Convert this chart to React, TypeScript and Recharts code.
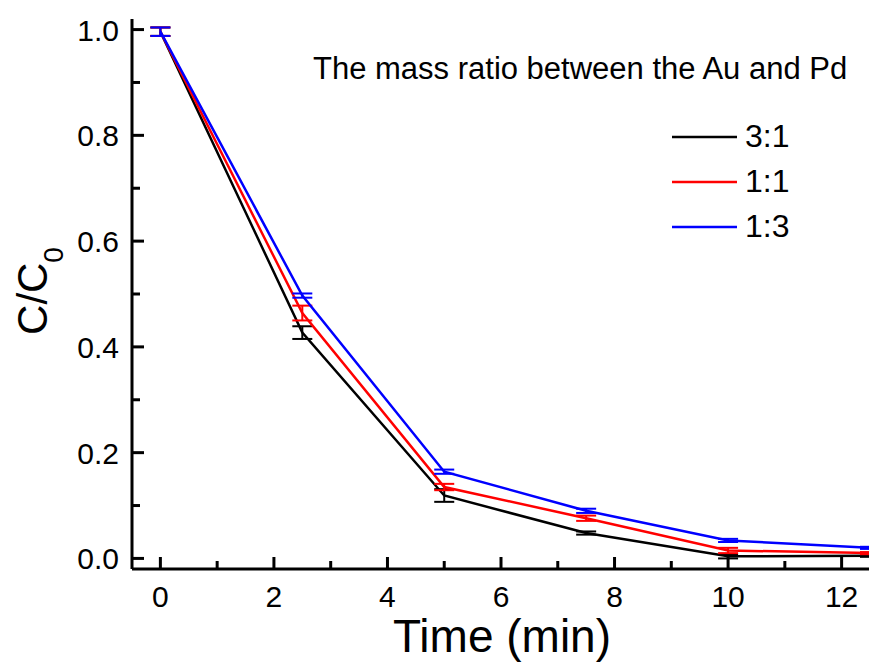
import { LineChart, Line, XAxis, YAxis, ErrorBar } from 'recharts';

const times = [0, 2.5, 5, 7.5, 10, 12.5];
const ratio31 = [0.996, 0.427, 0.119, 0.048, 0.004, 0.005];
const ratio11 = [0.996, 0.464, 0.135, 0.076, 0.015, 0.01];
const ratio13 = [0.996, 0.497, 0.164, 0.09, 0.034, 0.02];
const err31 = [0.008, 0.012, 0.012, 0.003, 0.004, 0.002];
const err11 = [0.008, 0.014, 0.006, 0.005, 0.005, 0.002];
const err13 = [0.008, 0.004, 0.004, 0.004, 0.003, 0.002];

const xTicks = [0, 1, 2, 3, 4, 5, 6, 7, 8, 9, 10, 11, 12];
const yTicks = [0, 0.1, 0.2, 0.3, 0.4, 0.5, 0.6, 0.7, 0.8, 0.9, 1.0];

const series = [
  { key: 'r31', err: 'e31', name: '3:1', color: '#000000' },
  { key: 'r11', err: 'e11', name: '1:1', color: '#ff0000' },
  { key: 'r13', err: 'e13', name: '1:3', color: '#0000ff' },
];

const data = times.map((t, i) => ({
  t,
  r31: ratio31[i],
  r11: ratio11[i],
  r13: ratio13[i],
  e31: err31[i],
  e11: err11[i],
  e13: err13[i],
}));

const font = '"Liberation Sans", Arial, sans-serif';

const XTick = (props: any) => {
  const { x, y, payload } = props;
  const v = payload.value;
  const major = v % 2 === 0;
  return (
    <g>
      <line x1={x} x2={x} y1={y} y2={y - (major ? 12 : 8)} stroke="#000" strokeWidth={3} />
      {major && (
        <text x={x} y={y + 38} textAnchor="middle" fontSize={30} fontFamily={font} fill="#000">
          {v}
        </text>
      )}
    </g>
  );
};

const YTick = (props: any) => {
  const { x, y, payload } = props;
  const v = payload.value;
  const major = Math.round(v * 10) % 2 === 0;
  return (
    <g>
      <line x1={x} x2={x + (major ? 12 : 8)} y1={y} y2={y} stroke="#000" strokeWidth={3} />
      {major && (
        <text x={x - 13} y={y + 11} textAnchor="end" fontSize={30} fontFamily={font} fill="#000">
          {v.toFixed(1)}
        </text>
      )}
    </g>
  );
};

export default function App() {
  return (
    <div
      style={{
        position: 'absolute',
        left: 0,
        top: 0,
        width: 869,
        height: 664,
        overflow: 'hidden',
        background: '#fff',
      }}
    >
      <LineChart width={900} height={664} data={data} margin={{ top: 19, right: 30, left: 0, bottom: 0 }}>
        <XAxis
          dataKey="t"
          type="number"
          domain={[-0.5, 12.5]}
          ticks={xTicks}
          interval={0}
          tickSize={0}
          tickMargin={0}
          tick={<XTick />}
          height={95}
          axisLine={{ stroke: '#000', strokeWidth: 3 }}
        />
        <XAxis
          xAxisId="top"
          orientation="top"
          dataKey="t"
          type="number"
          domain={[-0.5, 12.5]}
          height={0}
          tick={false}
          tickLine={false}
          axisLine={{ stroke: '#000', strokeWidth: 3 }}
        />
        <YAxis
          type="number"
          domain={[-0.02, 1.02]}
          ticks={yTicks}
          interval={0}
          tickSize={0}
          tickMargin={0}
          tick={<YTick />}
          width={132}
          axisLine={{ stroke: '#000', strokeWidth: 3 }}
        />
        <YAxis
          yAxisId="right"
          orientation="right"
          type="number"
          domain={[-0.02, 1.02]}
          width={0}
          tick={false}
          tickLine={false}
          axisLine={{ stroke: '#000', strokeWidth: 3 }}
        />
        {series.map((s) => (
          <Line
            key={s.key}
            type="linear"
            dataKey={s.key}
            stroke={s.color}
            strokeWidth={2.5}
            dot={false}
            isAnimationActive={false}
          >
            <ErrorBar dataKey={s.err} width={10} stroke={s.color} strokeWidth={2} direction="y" />
          </Line>
        ))}
      </LineChart>
      <svg
        width={869}
        height={664}
        style={{ position: 'absolute', left: 0, top: 0, pointerEvents: 'none' }}
        fontFamily={font}
      >
        <text x={313} y={79} fontSize={31} fill="#000">
          The mass ratio between the Au and Pd
        </text>
        {series.map((s, i) => (
          <g key={s.key}>
            <line x1={672} x2={737} y1={137 + i * 45} y2={137 + i * 45} stroke={s.color} strokeWidth={2.5} />
            <text x={745} y={147 + i * 45} fontSize={32} fill="#000">
              {s.name}
            </text>
          </g>
        ))}
        <text x={502} y={652} textAnchor="middle" fontSize={46} fill="#000">
          Time (min)
        </text>
        <text transform="translate(47,291) rotate(-90)" textAnchor="middle" fontSize={42} fill="#000">
          C/C
          <tspan fontSize={28} dy={16}>
            0
          </tspan>
        </text>
      </svg>
    </div>
  );
}
